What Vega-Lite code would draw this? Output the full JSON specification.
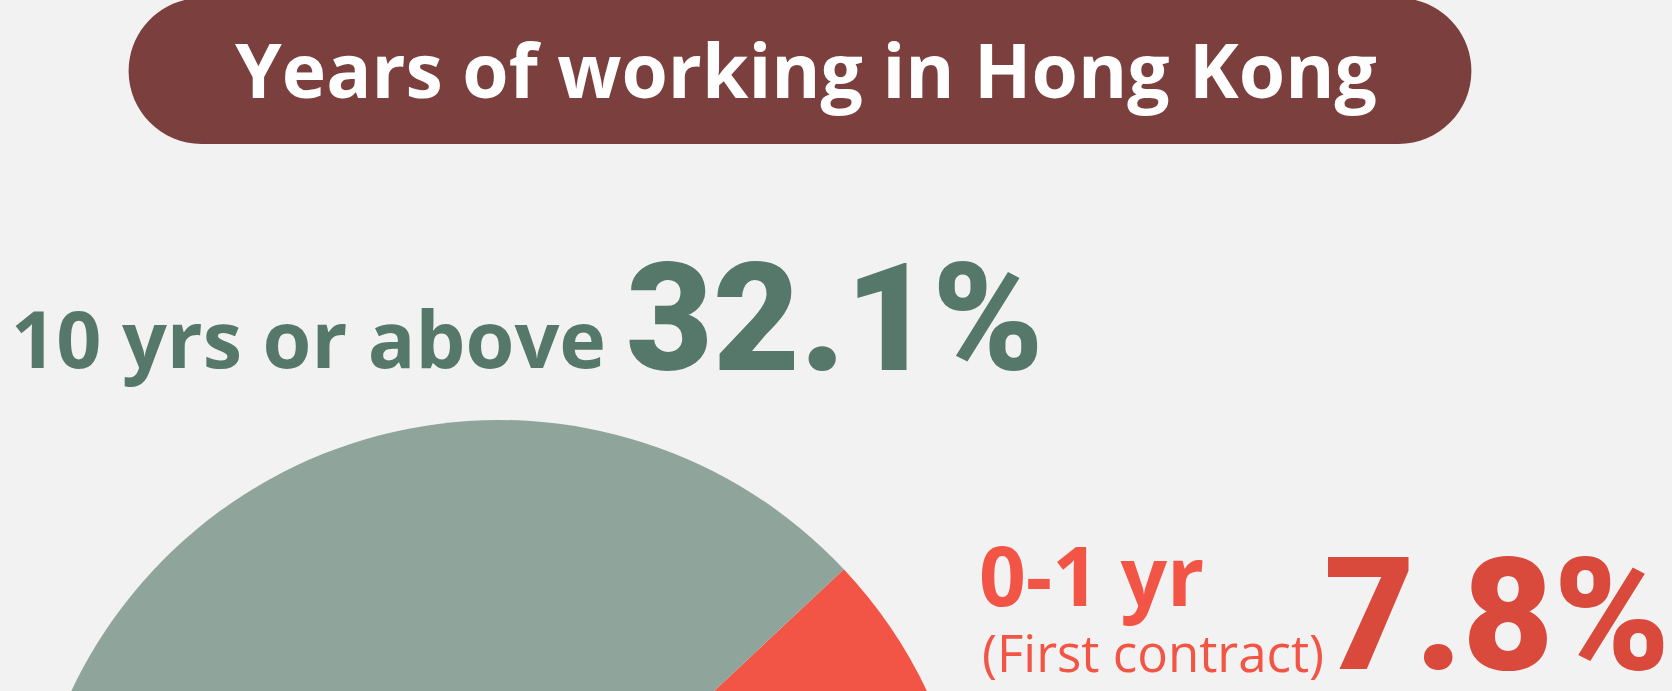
{
  "$schema": "https://vega.github.io/schema/vega-lite/v6.json",
  "width": 1672,
  "height": 691,
  "autosize": {"type": "none"},
  "padding": 0,
  "background": "#F2F2F2",
  "config": {"view": {"stroke": null}, "font": "Open Sans"},
  "datasets": {
    "shares": [
      {"group": "0-1 yr", "note": "(First contract)", "share": 7.8, "pct_label": "7.8%", "min_years": 0},
      {"group": "1-10 yrs", "note": "", "share": 60.1, "pct_label": "60.1%", "min_years": 1},
      {"group": "10 yrs or above", "note": "", "share": 32.1, "pct_label": "32.1%", "min_years": 10}
    ],
    "heading": [{"title": "Years of working in Hong Kong"}]
  },
  "data": {"name": "shares"},
  "layer": [
    {
      "data": {"name": "heading"},
      "mark": {"type": "rect", "color": "#7B3F3D", "cornerRadius": 73},
      "encoding": {"x": {"value": 128.6}, "x2": {"value": 1471.4}, "y": {"value": -2}, "y2": {"value": 144}}
    },
    {
      "data": {"name": "heading"},
      "mark": {"type": "text", "color": "#FFFFFF", "fontSize": 75, "fontWeight": "bold", "align": "center", "baseline": "alphabetic"},
      "encoding": {"x": {"value": 806}, "y": {"value": 98}, "text": {"field": "title"}}
    },
    {
      "mark": {"type": "arc", "outerRadius": 473},
      "encoding": {
        "theta": {"field": "share", "type": "quantitative", "stack": true, "scale": {"range": [0.81681, 7.09999]}},
        "order": {"field": "min_years", "type": "quantitative"},
        "color": {"field": "group", "type": "nominal", "scale": {"domain": ["0-1 yr", "1-10 yrs", "10 yrs or above"], "range": ["#F25546", "#C8C8C8", "#8FA59B"]}, "legend": null},
        "x": {"value": 499},
        "y": {"value": 893}
      }
    },
    {
      "mark": {"type": "text", "radius": 530, "align": "right", "baseline": "alphabetic", "dx": 208, "dy": -4.7, "fontSize": 79, "fontWeight": "bold", "color": "#56786B"},
      "encoding": {
        "theta": {"field": "share", "type": "quantitative", "stack": true, "scale": {"range": [0.81681, 7.09999]}},
        "order": {"field": "min_years", "type": "quantitative"},
        "detail": {"field": "group"},
        "x": {"value": 499},
        "y": {"value": 893},
        "text": {"condition": {"test": "datum.group === '10 yrs or above'", "field": "group"}, "value": ""}
      }
    },
    {
      "mark": {"type": "text", "radius": 530, "align": "left", "baseline": "alphabetic", "dx": 228, "dy": -2.7, "fontSize": 150, "fontWeight": 900, "font": "Roboto", "color": "#56786B"},
      "encoding": {
        "theta": {"field": "share", "type": "quantitative", "stack": true, "scale": {"range": [0.81681, 7.09999]}},
        "order": {"field": "min_years", "type": "quantitative"},
        "detail": {"field": "group"},
        "x": {"value": 499},
        "y": {"value": 893},
        "text": {"condition": {"test": "datum.group === '10 yrs or above'", "field": "pct_label"}, "value": ""}
      }
    },
    {
      "mark": {"type": "text", "radius": 600, "align": "left", "baseline": "alphabetic", "dx": -44, "dy": 5.3, "fontSize": 82, "fontWeight": "bold", "color": "#F25546"},
      "encoding": {
        "theta": {"field": "share", "type": "quantitative", "stack": true, "scale": {"range": [0.81681, 7.09999]}},
        "order": {"field": "min_years", "type": "quantitative"},
        "detail": {"field": "group"},
        "x": {"value": 499},
        "y": {"value": 893},
        "text": {"condition": {"test": "datum.group === '0-1 yr'", "field": "group"}, "value": ""}
      }
    },
    {
      "mark": {"type": "text", "radius": 600, "align": "left", "baseline": "alphabetic", "dx": -41, "dy": 71.3, "fontSize": 51, "fontWeight": "normal", "color": "#F25546"},
      "encoding": {
        "theta": {"field": "share", "type": "quantitative", "stack": true, "scale": {"range": [0.81681, 7.09999]}},
        "order": {"field": "min_years", "type": "quantitative"},
        "detail": {"field": "group"},
        "x": {"value": 499},
        "y": {"value": 893},
        "text": {"condition": {"test": "datum.group === '0-1 yr'", "field": "note"}, "value": ""}
      }
    },
    {
      "mark": {"type": "text", "radius": 600, "align": "left", "baseline": "alphabetic", "dx": 301, "dy": 68.3, "fontSize": 157, "fontWeight": 900, "font": "Roboto", "color": "#D9493C"},
      "encoding": {
        "theta": {"field": "share", "type": "quantitative", "stack": true, "scale": {"range": [0.81681, 7.09999]}},
        "order": {"field": "min_years", "type": "quantitative"},
        "detail": {"field": "group"},
        "x": {"value": 499},
        "y": {"value": 893},
        "text": {"condition": {"test": "datum.group === '0-1 yr'", "field": "pct_label"}, "value": ""}
      }
    }
  ]
}
